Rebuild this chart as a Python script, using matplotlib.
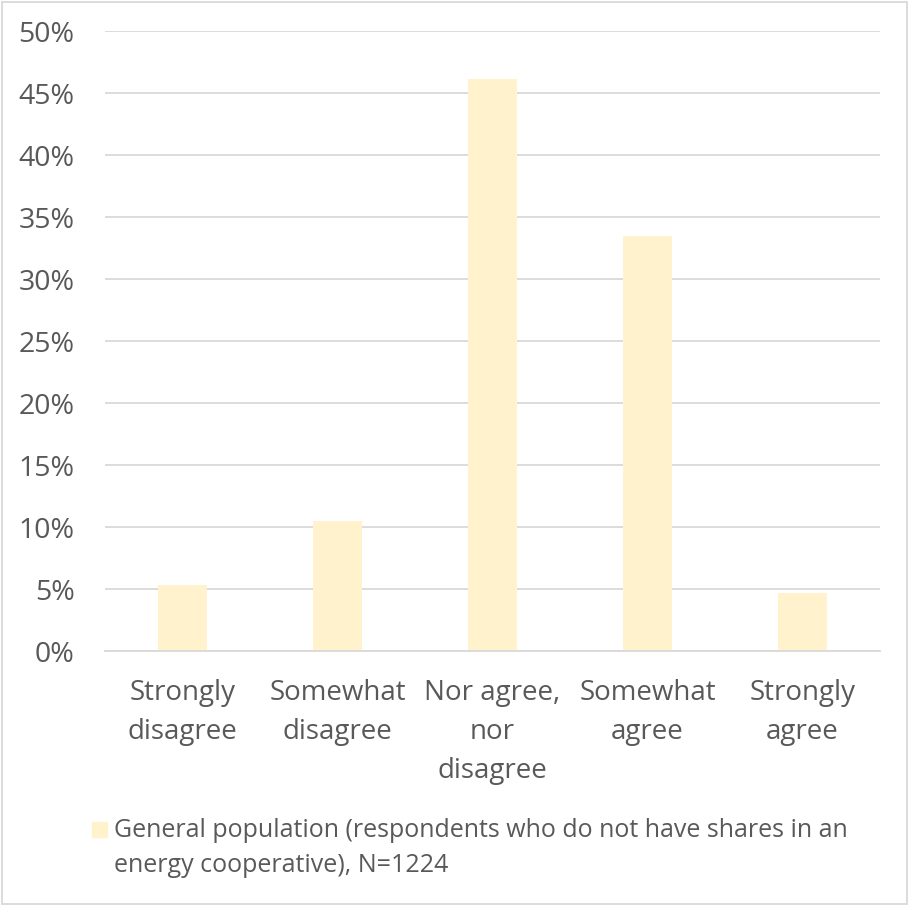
import matplotlib.pyplot as plt
from matplotlib.patches import Rectangle
from matplotlib.ticker import FuncFormatter, MultipleLocator

categories = [
    "Strongly\ndisagree",
    "Somewhat\ndisagree",
    "Nor agree,\nnor\ndisagree",
    "Somewhat\nagree",
    "Strongly\nagree",
]
shares = [5.3, 10.5, 46.1, 33.5, 4.7]
series_label = ("General population (respondents who do not have shares in an\n"
                "energy cooperative), N=1224")

BAR_COLOR = "#FFF2CC"
TEXT_COLOR = "#595959"
GRID_COLOR = "#D9D9D9"

plt.rcParams["font.family"] = ["Open Sans", "DejaVu Sans"]

W, H = 909, 906
fig = plt.figure(figsize=(W / 100, H / 100), dpi=100)
ax = fig.add_axes([105 / W, 1 - 651 / H, 775 / W, 620 / H])

x = range(len(categories))
ax.bar(x, shares, width=0.316, color=BAR_COLOR, zorder=2)

ax.set_xlim(-0.5, len(categories) - 0.5)
ax.set_ylim(0, 50)
ax.yaxis.set_major_locator(MultipleLocator(5))
ax.yaxis.set_major_formatter(FuncFormatter(lambda v, _: f"{v:.0f}%"))
ax.grid(axis="y", color=GRID_COLOR, lw=1.3, zorder=0)
for side in ("top", "right", "left"):
    ax.spines[side].set_visible(False)
ax.spines["bottom"].set_color(GRID_COLOR)
ax.spines["bottom"].set_linewidth(1.3)

ax.set_xticks(list(x))
ax.set_xticklabels(categories, linespacing=1.52)
ax.tick_params(axis="both", length=0, colors=TEXT_COLOR)
ax.tick_params(axis="x", pad=20, labelsize=20)
ax.tick_params(axis="y", pad=22, labelsize=20.5)

# legend drawn by hand so the swatch sits on the first text line
fig.patches.append(Rectangle((92 / W, 1 - 837 / H), 15 / W, 15 / H,
                             transform=fig.transFigure, color=BAR_COLOR))
fig.text(114 / W, 1 - 818 / H, series_label, ha="left", va="top",
         color=TEXT_COLOR, fontsize=18, linespacing=1.55)

# outer frame
fig.patches.append(Rectangle((2 / W, 2 / H), 905 / W, 902 / H,
                             transform=fig.transFigure, fill=False,
                             edgecolor=GRID_COLOR, lw=1.3))

fig.savefig("out.png", dpi=100)
